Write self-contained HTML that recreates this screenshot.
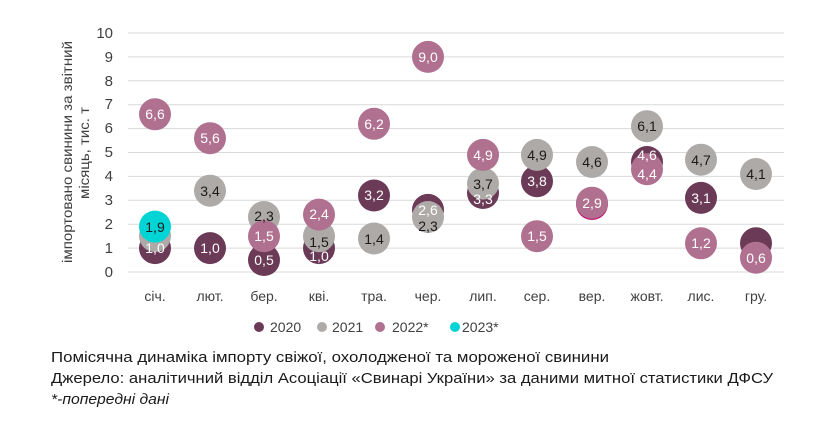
<!DOCTYPE html>
<html><head><meta charset="utf-8"><style>
html,body{margin:0;padding:0;background:#fff;}
svg{display:block;font-family:"Liberation Sans",sans-serif;}
</style></head><body>
<svg width="816" height="433" viewBox="0 0 816 433" xmlns="http://www.w3.org/2000/svg">
<g stroke="#d9d9d9" stroke-width="1">
<line x1="128" x2="784" y1="272" y2="272"/><line x1="128" x2="784" y1="248.1" y2="248.1"/>
<line x1="128" x2="784" y1="224.2" y2="224.2"/><line x1="128" x2="784" y1="200.3" y2="200.3"/>
<line x1="128" x2="784" y1="176.4" y2="176.4"/><line x1="128" x2="784" y1="152.5" y2="152.5"/>
<line x1="128" x2="784" y1="128.6" y2="128.6"/><line x1="128" x2="784" y1="104.7" y2="104.7"/>
<line x1="128" x2="784" y1="80.8" y2="80.8"/><line x1="128" x2="784" y1="56.9" y2="56.9"/>
<line x1="128" x2="784" y1="33" y2="33"/>
</g>
<g font-size="15" fill="#404040" text-anchor="end">
<text x="113" y="277">0</text><text x="113" y="253">1</text><text x="113" y="229">2</text>
<text x="113" y="205">3</text><text x="113" y="181">4</text><text x="113" y="157">5</text>
<text x="113" y="133">6</text><text x="113" y="109">7</text><text x="113" y="86">8</text>
<text x="113" y="62">9</text><text x="113" y="38">10</text>
</g>
<g font-size="14" fill="#404040">
<text transform="translate(72,152) rotate(-90)" text-anchor="middle" textLength="222" lengthAdjust="spacingAndGlyphs">імпортовано свинини за звітний</text>
<text transform="translate(89,153) rotate(-90)" text-anchor="middle" textLength="92" lengthAdjust="spacingAndGlyphs">місяць, тис. т</text>
</g>
<g font-size="14" fill="#404040" text-anchor="middle">
<text x="155" y="301">січ.</text><text x="210" y="301">лют.</text><text x="264" y="301">бер.</text>
<text x="319" y="301">кві.</text><text x="374" y="301">тра.</text><text x="428" y="301">чер.</text>
<text x="483" y="301">лип.</text><text x="537" y="301">сер.</text><text x="592" y="301">вер.</text>
<text x="647" y="301">жовт.</text><text x="701" y="301">лис.</text><text x="756" y="301">гру.</text>
</g>
<g fill="#6b3a57">
<circle cx="155" cy="248.1" r="16"/><circle cx="210" cy="248.1" r="16"/><circle cx="264" cy="260" r="16"/>
<circle cx="319" cy="248.1" r="16"/><circle cx="374" cy="195.5" r="16"/><circle cx="428" cy="209.9" r="16"/>
<circle cx="483" cy="193" r="16"/><circle cx="537" cy="181.2" r="16"/><circle cx="592" cy="204" r="16" fill="#c8106e"/>
<circle cx="647" cy="162" r="16"/><circle cx="701" cy="197.9" r="16"/><circle cx="756" cy="243.3" r="16"/>
</g>
<g fill="#aeaaa8">
<circle cx="155" cy="236" r="16"/><circle cx="210" cy="190.7" r="16"/><circle cx="264" cy="217" r="16"/>
<circle cx="319" cy="236.2" r="16"/><circle cx="374" cy="238.5" r="16"/><circle cx="428" cy="217" r="16"/>
<circle cx="483" cy="183.6" r="16"/><circle cx="537" cy="154.9" r="16"/><circle cx="592" cy="162" r="16"/>
<circle cx="647" cy="126.2" r="16"/><circle cx="701" cy="159.7" r="16"/><circle cx="756" cy="174" r="16"/>
</g>
<g fill="#b07090">
<circle cx="155" cy="114.3" r="16"/><circle cx="210" cy="138.2" r="16"/><circle cx="264" cy="236.2" r="16"/>
<circle cx="319" cy="214.6" r="16"/><circle cx="374" cy="123.8" r="16"/><circle cx="428" cy="56.9" r="16"/>
<circle cx="483" cy="154.9" r="16"/><circle cx="537" cy="236.2" r="16"/><circle cx="592" cy="202.7" r="16"/>
<circle cx="647" cy="169.2" r="16"/><circle cx="701" cy="243.3" r="16"/><circle cx="756" cy="257.7" r="16"/>
</g>
<circle cx="155" cy="226.6" r="16" fill="#00d4d4"/>
<g font-size="14" text-anchor="middle">
<g fill="#fff">
<text x="155" y="253">1,0</text><text x="210" y="253">1,0</text><text x="264" y="265">0,5</text>
<text x="319" y="261">1,0</text><text x="374" y="200">3,2</text><text x="428" y="215">2,6</text>
<text x="483" y="204">3,3</text><text x="537" y="186">3,8</text><text x="647" y="160">4,6</text>
<text x="701" y="203">3,1</text>
<text x="155" y="119">6,6</text><text x="210" y="143">5,6</text><text x="264" y="241">1,5</text>
<text x="319" y="219">2,4</text><text x="374" y="129">6,2</text><text x="428" y="62">9,0</text>
<text x="483" y="160">4,9</text><text x="537" y="241">1,5</text><text x="592" y="208">2,9</text>
<text x="647" y="179">4,4</text><text x="701" y="248">1,2</text><text x="756" y="263">0,6</text>
</g>
<g fill="#1a1a1a">
<text x="210" y="196">3,4</text><text x="264" y="221">2,3</text><text x="319" y="247">1,5</text>
<text x="374" y="244">1,4</text><text x="428" y="231">2,3</text><text x="483" y="189">3,7</text>
<text x="537" y="160">4,9</text><text x="592" y="167">4,6</text><text x="647" y="131">6,1</text>
<text x="701" y="165">4,7</text><text x="756" y="179">4,1</text>
<text x="155" y="232">1,9</text>
</g>
</g>
<g font-size="14" fill="#404040">
<circle cx="259" cy="327" r="5" fill="#6b3a57"/><text x="270" y="332">2020</text>
<circle cx="322" cy="327" r="5" fill="#aeaaa8"/><text x="332" y="332">2021</text>
<circle cx="380" cy="327" r="5" fill="#b07090"/><text x="392" y="332">2022*</text>
<circle cx="455" cy="327" r="5" fill="#00d4d4"/><text x="462" y="332">2023*</text>
</g>
<g font-size="15" fill="#1a1a1a">
<text x="51" y="362" textLength="558" lengthAdjust="spacingAndGlyphs">Помісячна динаміка імпорту свіжої, охолодженої та мороженої свинини</text>
<text x="51" y="383" textLength="722" lengthAdjust="spacingAndGlyphs">Джерело: аналітичний відділ Асоціації «Свинарі України» за даними митної статистики ДФСУ</text>
<text x="51" y="404" font-style="italic" textLength="118" lengthAdjust="spacingAndGlyphs">*-попередні дані</text>
</g>
</svg>
</body></html>
